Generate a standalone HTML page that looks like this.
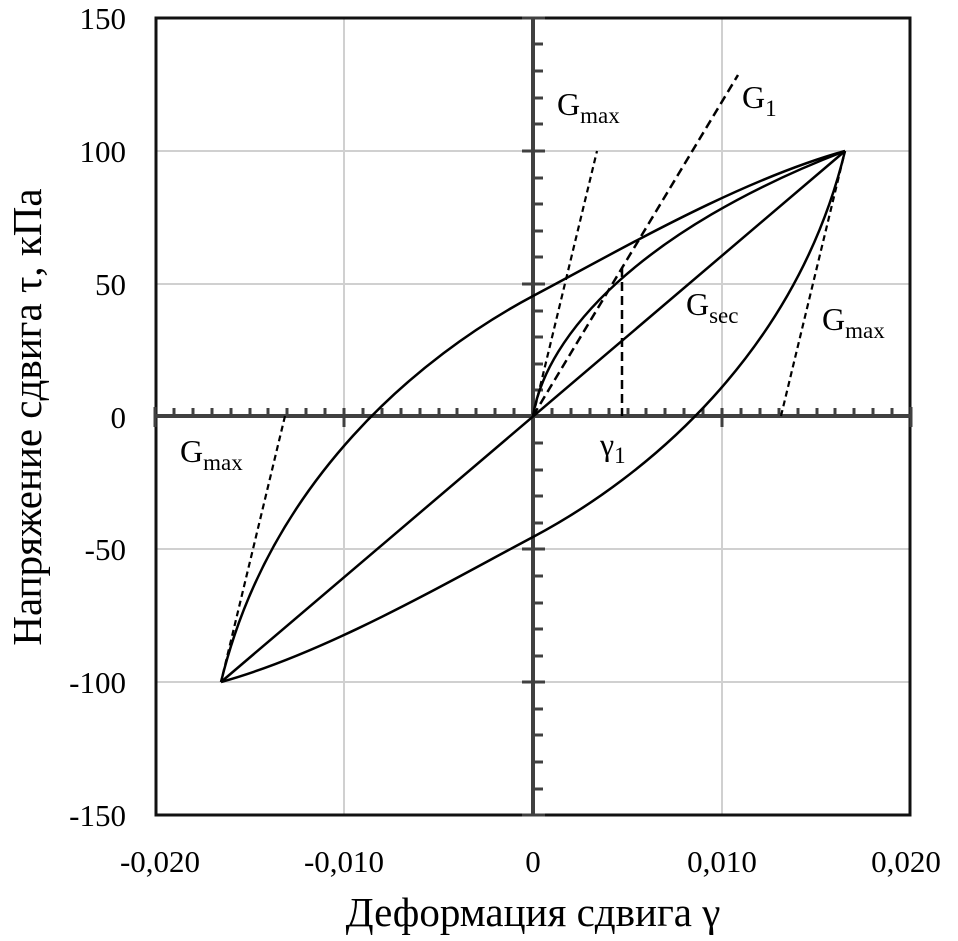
<!DOCTYPE html>
<html><head><meta charset="utf-8"><style>
html,body{margin:0;padding:0;background:#fff}
svg{display:block;font-family:"Liberation Serif",serif}
</style></head><body>
<svg width="958" height="941" viewBox="0 0 958 941">
<rect x="0" y="0" width="958" height="941" fill="#fff"/>
<g stroke="#d0d0d0" stroke-width="2">
<line x1="344" y1="18" x2="344" y2="815"/><line x1="722" y1="18" x2="722" y2="815"/>
<line x1="155" y1="151" x2="911" y2="151"/><line x1="155" y1="284" x2="911" y2="284"/>
<line x1="155" y1="549" x2="911" y2="549"/><line x1="155" y1="682" x2="911" y2="682"/>
</g>
<rect x="156" y="18" width="754" height="797" fill="none" stroke="#111" stroke-width="3"/>
<g stroke="#404040" stroke-width="3">
<path d="M155,407V427M174,408V416M193,408V416M212,408V416M231,408V416M250,408V416M268,408V416M287,408V416M306,408V416M325,408V416M344,408V427M363,408V416M382,408V416M401,408V416M420,408V416M439,408V416M457,408V416M476,408V416M495,408V416M514,408V416M552,408V416M571,408V416M590,408V416M609,408V416M628,408V416M646,408V416M665,408V416M684,408V416M703,408V416M722,408V427M741,408V416M760,408V416M779,408V416M798,408V416M817,408V416M835,408V416M854,408V416M873,408V416M892,408V416M911,407V427"/>
<path d="M522,18H545M533,44H543M533,71H543M533,98H543M533,124H543M522,151H545M533,178H543M533,204H543M533,231H543M533,257H543M522,284H545M533,311H543M533,337H543M533,364H543M533,390H543M533,443H543M533,470H543M533,496H543M533,523H543M522,549H545M533,576H543M533,603H543M533,629H543M533,656H543M522,682H545M533,709H543M533,735H543M533,762H543M533,789H543M522,815H545"/>
</g>
<g stroke="#404040" stroke-width="4">
<line x1="155" y1="416" x2="911" y2="416"/>
<line x1="533" y1="18" x2="533" y2="815"/>
</g>
<g fill="none" stroke="#000" stroke-width="2.5">
<path d="M533,416 C546,335 640,230 845,151"/>
<path d="M845,151 C740,180 620,250 533,296 C420,356 270,480 221,682"/>
<path d="M221,682 C326,653 446,583 533,537 C646,477 796,353 845,151"/>
<line x1="221" y1="682" x2="845" y2="151"/>
</g>
<g fill="none" stroke="#000" stroke-width="2.2" stroke-dasharray="6,4">
<line x1="533" y1="416" x2="597" y2="151"/>
<line x1="533" y1="416" x2="738" y2="75" stroke-dasharray="9,5" stroke-width="2.5"/>
<line x1="622" y1="268" x2="622" y2="416" stroke-dasharray="9,5" stroke-width="2.5"/>
<line x1="781" y1="416" x2="845" y2="151"/>
<line x1="285" y1="416" x2="221" y2="682"/>
</g>
<g font-size="32" fill="#000">
<text x="557" y="115">G<tspan font-size="23" dy="8">max</tspan></text>
<text x="742" y="108">G<tspan font-size="23" dy="8">1</tspan></text>
<text x="686" y="315">G<tspan font-size="23" dy="8">sec</tspan></text>
<text x="822" y="330">G<tspan font-size="23" dy="8">max</tspan></text>
<text x="180" y="462">G<tspan font-size="23" dy="8">max</tspan></text>
<text x="600" y="455">γ<tspan font-size="23" dy="8">1</tspan></text>
</g>
<g font-size="31" fill="#000" text-anchor="end">
<text x="126" y="29">150</text><text x="126" y="162">100</text><text x="126" y="295">50</text>
<text x="126" y="428">0</text><text x="126" y="560">-50</text><text x="126" y="693">-100</text>
<text x="126" y="826">-150</text>
</g>
<g font-size="31" fill="#000" text-anchor="middle">
<text x="160" y="872">-0,020</text><text x="344" y="872">-0,010</text><text x="533" y="872">0</text>
<text x="722" y="872">0,010</text><text x="906" y="872">0,020</text>
</g>
<text x="533" y="926" font-size="41" text-anchor="middle">Деформация сдвига γ</text>
<text transform="translate(41,417) rotate(-90)" font-size="41" text-anchor="middle">Напряжение сдвига τ, кПа</text>
</svg>
</body></html>
